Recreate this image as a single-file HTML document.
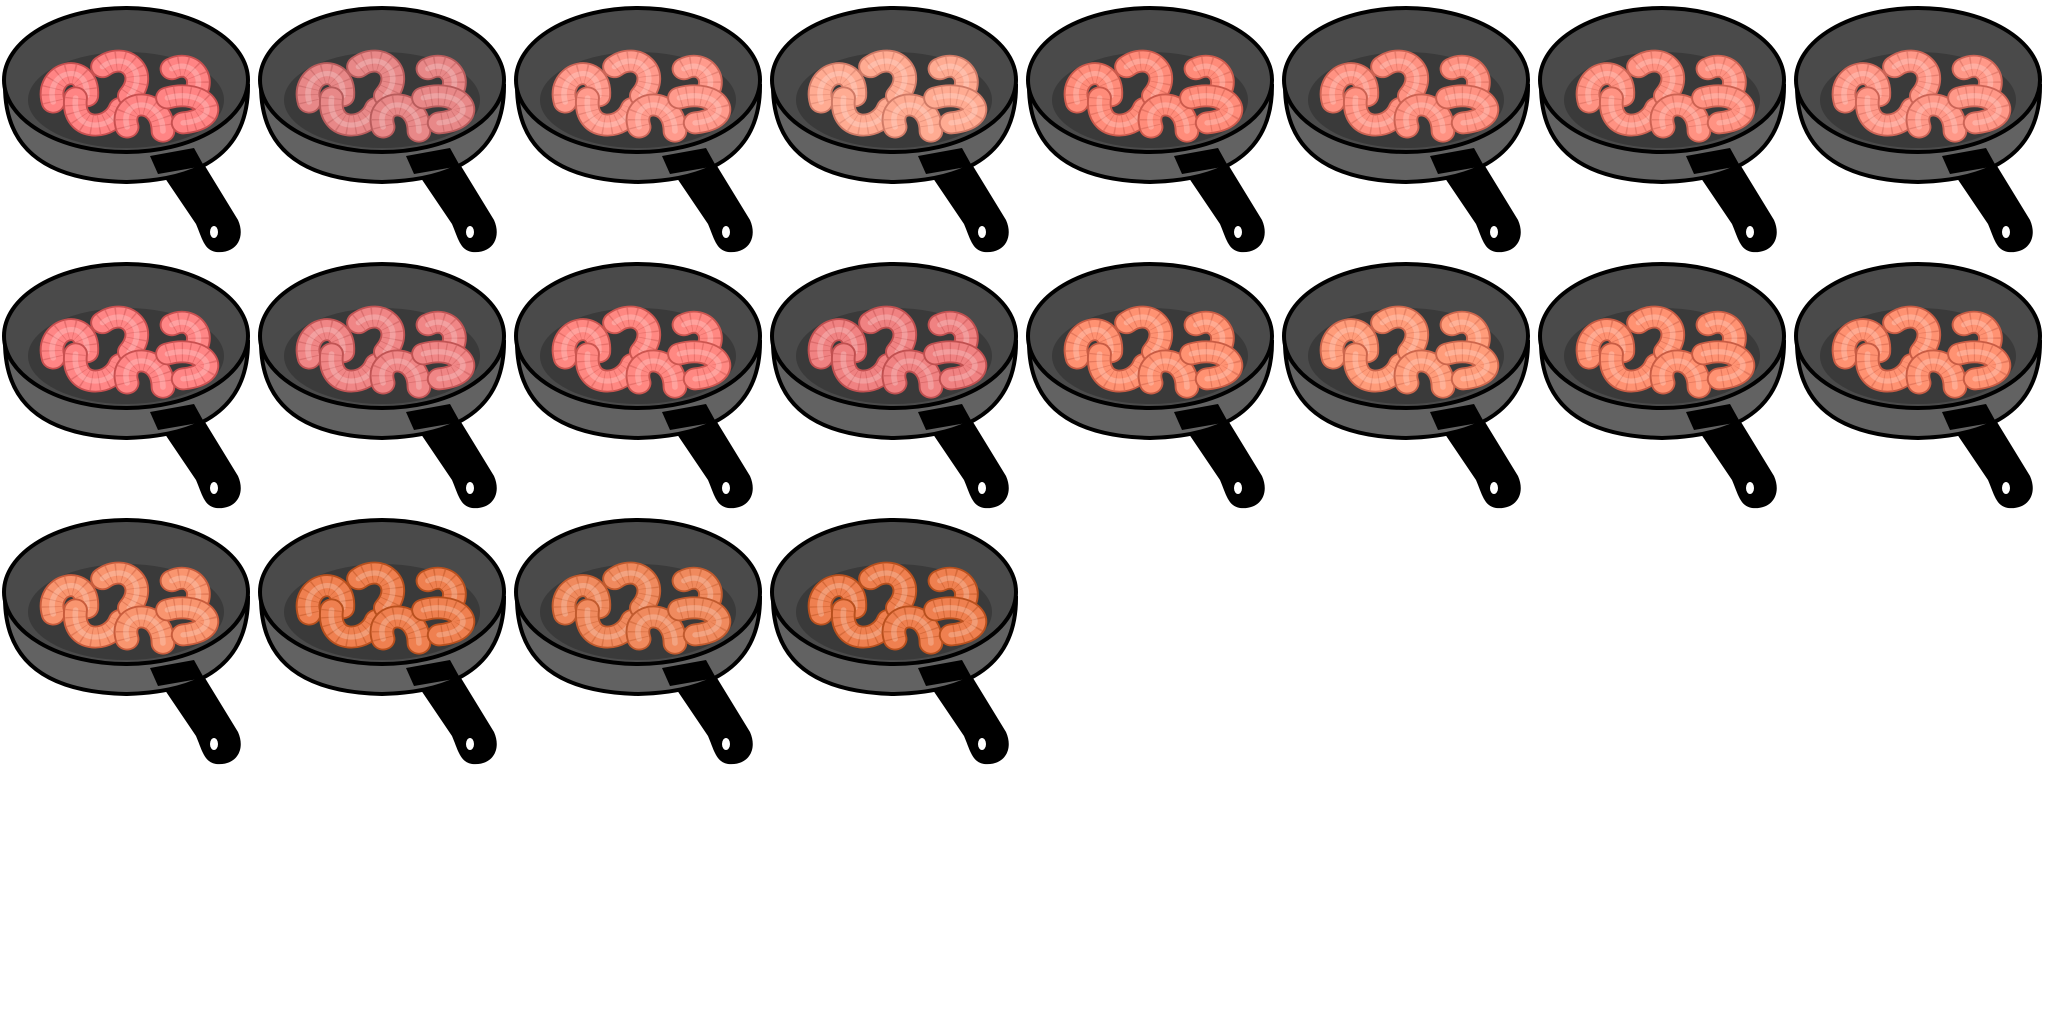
<!DOCTYPE html>
<html><head><meta charset="utf-8"><style>
html,body{margin:0;padding:0;background:#fff;width:2048px;height:1024px;overflow:hidden}
svg{display:block}
</style></head><body>
<svg id="grid" width="2048" height="1024" viewBox="0 0 2048 1024" xmlns="http://www.w3.org/2000/svg"></svg>
<script>
const shrimpColors = ["#ff8484","#e88888","#ff9a8c","#ffab92","#ff8c7a","#ff9282","#ff9282","#ff9888",
  "#ff8686","#f08686","#ff8882","#f08282","#ff9272","#ff9c7a","#ff9272","#ff9272",
  "#f9956f","#ef8050","#f08a5e","#ef8050"];
const outlineColors = ["#c85050","#b85c5c","#cc6658","#d07a66","#cc5a4c","#cc6252","#cc6252","#cc6456",
  "#c85050","#c05454","#cc5650","#c05050","#c85c44","#cc664c","#c85c44","#c85c44",
  "#c85c3c","#b8501e","#c05a2e","#b8501e"];
const NS = "http://www.w3.org/2000/svg";
const svg = document.getElementById("grid");
const cols = 8, pitch = 256;
const shrimpPaths = [
  "M60,102 C52,72 92,62 90,96",
  "M80,98 C76,132 112,130 120,108",
  "M104,68 C124,52 146,74 128,96",
  "M126,126 C118,98 158,96 158,130",
  "M166,70 C184,60 198,82 184,96",
  "M162,98 C196,88 214,118 176,122"
];
function mk(tag, attrs, parent){
  const e = document.createElementNS(NS, tag);
  for (const k in attrs) e.setAttribute(k, attrs[k]);
  parent.appendChild(e);
  return e;
}
shrimpColors.forEach((c, i) => {
  const g = mk("g", {transform: `translate(${(i % cols) * pitch},${Math.floor(i / cols) * pitch})`}, svg);
  
  
  const h = mk("path", {d: "M150,156 L194,148 L238,220 C246,238 236,254 216,252 C204,250 202,238 196,224 Z", fill: "#000"}, g);
  
  
  mk("ellipse", {cx: 214, cy: 232, rx: 4, ry: 6, fill: "#fff"}, g);
  const b = mk("path", {d: "M5,86 C5,144 40,180 126,182 C212,180 248,144 248,86 Z", fill: "#626262", stroke: "#000", "stroke-width": 4}, g);
  
  
  mk("ellipse", {cx: 126, cy: 80, rx: 122, ry: 72, fill: "#4a4a4a", stroke: "#000", "stroke-width": 4}, g);
  mk("ellipse", {cx: 126, cy: 100, rx: 98, ry: 48, fill: "#3a3a3a"}, g);
  mk("path", {d: "M150,156 L194,148 L204,166 L158,174 Z", fill: "#000"}, g);
  const sg = mk("g", {fill: "none", "stroke-linecap": "round", transform: "matrix(1.12,0,0,1.04,-14,-4)"}, g);
  
  
  shrimpPaths.forEach(d => {
    mk("path", {d, stroke: outlineColors[i], "stroke-width": 22}, sg);
    mk("path", {d, stroke: c, "stroke-width": 18.5}, sg);
    mk("path", {d, stroke: outlineColors[i], "stroke-width": 18, "stroke-dasharray": "1 5.5", "stroke-linecap": "butt", opacity: 0.45}, sg);
    mk("path", {d, stroke: "#fff", "stroke-width": 5, opacity: 0.22}, sg);
  });
});
</script>
</body></html>
